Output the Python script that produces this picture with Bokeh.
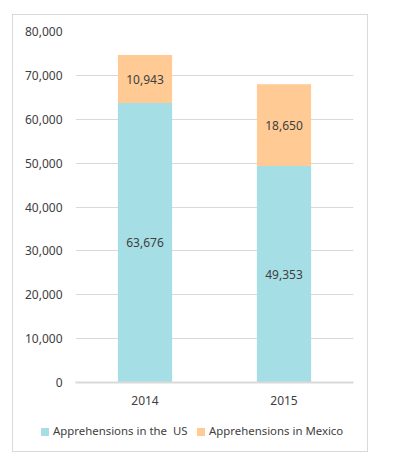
from bokeh.plotting import figure
from bokeh.layouts import column
from bokeh.models import (FactorRange, Range1d, NumeralTickFormatter, ColumnDataSource,
                          LabelSet, Div)
from bokeh.core.properties import value
from bokeh.embed import file_html
from bokeh.resources import INLINE

years = ["2014", "2015"]
us = [63676, 49353]
mexico = [10943, 18650]
series_names = ["Apprehensions in the  US", "Apprehensions in Mexico"]
colors = ["#A6DEE5", "#FFCA94"]
y_ticks = [0, 10000, 20000, 30000, 40000, 50000, 60000, 70000, 80000]

FONT = "Noto Sans"
TXT = "#404040"
GRID = "#D9D9D9"
BORDER = "1px solid #D9D9D9"

src = ColumnDataSource(dict(
    years=years, us=us, mexico=mexico,
    us_mid=[u / 2 for u in us],
    mx_mid=[u + m / 2 for u, m in zip(us, mexico)],
    us_lbl=[f"{u:,}" for u in us],
    mx_lbl=[f"{m:,}" for m in mexico],
))

p = figure(x_range=FactorRange(*years, range_padding=0), y_range=Range1d(0, 80000),
           width=356, height=400, output_backend="svg", toolbar_location=None,
           min_border_left=62, min_border_right=16, min_border_top=16, min_border_bottom=33)
p.styles = {"border": BORDER, "border-bottom": "none"}
p.outline_line_color = None

rs = p.vbar_stack(["us", "mexico"], x="years", width=0.39, color=colors, source=src,
                  line_color=None)

for ycol, tcol in (("us_mid", "us_lbl"), ("mx_mid", "mx_lbl")):
    p.add_layout(LabelSet(x="years", y=ycol, text=tcol, source=src, text_align="center",
                          text_baseline="middle", text_font_size="12px", text_color=TXT,
                          text_font=value(FONT)))

p.yaxis.ticker = y_ticks
p.yaxis.formatter = NumeralTickFormatter(format="0,0")
p.yaxis.axis_line_color = None
p.xaxis.axis_line_color = GRID
p.xaxis.axis_line_width = 2
for ax in (p.xaxis, p.yaxis):
    ax.major_tick_line_color = None
    ax.minor_tick_line_color = None
    ax.major_tick_out = 0
    ax.major_tick_in = 0
    ax.minor_tick_out = 0
    ax.major_label_standoff = 13
    ax.major_label_text_font = FONT
    ax.major_label_text_font_size = "12px"
    ax.major_label_text_color = TXT

p.xgrid.grid_line_color = None
p.ygrid.grid_line_color = GRID
p.ygrid.grid_line_width = 1

# legend strip below the chart
item_widths = ["156px", "auto"]
items_html = "".join(
    f'<span style="display:inline-block;width:{w};">'
    f'<span style="display:inline-block;width:8px;height:8px;background:{c};'
    f'margin-right:4px;vertical-align:-1px;"></span>{n}</span>'
    for n, c, w in zip(series_names, colors, item_widths)
)
legend_div = Div(
    text=(f'<div style="padding:10px 0 0 28px;font-family:\'{FONT}\';font-size:11.4px;'
          f'color:{TXT};line-height:14px;white-space:pre;">{items_html}</div>'),
    width=356, height=38, margin=(0, 0, 0, 0),
)
legend_div.styles = {"border": BORDER, "border-top": "none", "box-sizing": "border-box"}

layout = column(p, legend_div, spacing=0)
layout.margin = (14, 0, 0, 12)

open("out.html", "w").write(file_html(layout, INLINE))
